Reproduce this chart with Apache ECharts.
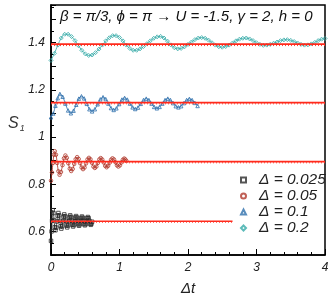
<!DOCTYPE html>
<html><head><meta charset="utf-8">
<script src="https://cdn.jsdelivr.net/npm/echarts@6/dist/echarts.min.js"></script>
<style>html,body{margin:0;padding:0;background:#fff}#c{width:332px;height:307px}</style>
</head><body><div id="c"></div>
<script>
// ---- data ----
const legendNames = ['Δ = 0.025', 'Δ = 0.05', 'Δ = 0.1', 'Δ = 0.2'];

const xBlack = [0,0.008,0.016,0.025,0.035,0.045,0.055,0.065,0.076,0.087,0.097,0.108,0.119,0.13,0.14,0.151,0.162,0.173,0.183,0.194,0.205,0.216,0.226,0.237,0.248,0.259,0.269,0.28,0.291,0.302,0.312,0.323,0.334,0.345,0.355,0.366,0.377,0.388,0.398,0.409,0.42,0.431,0.441,0.452,0.463,0.474,0.484,0.495,0.506,0.517,0.527,0.538,0.549,0.56,0.57,0.581,0.59,0.6];
const yBlack = [0.560,0.600,0.645,0.690,0.678,0.648,0.618,0.605,0.616,0.642,0.667,0.678,0.668,0.645,0.622,0.612,0.621,0.642,0.663,0.672,0.664,0.645,0.625,0.617,0.625,0.643,0.661,0.668,0.661,0.645,0.628,0.621,0.627,0.643,0.659,0.665,0.659,0.645,0.630,0.624,0.630,0.644,0.657,0.663,0.658,0.645,0.631,0.626,0.631,0.644,0.656,0.661,0.656,0.645,0.633,0.628,0.633,0.641];

const xRed = [0,0.014,0.028,0.042,0.055,0.073,0.09,0.108,0.125,0.146,0.168,0.189,0.21,0.231,0.253,0.274,0.295,0.317,0.339,0.36,0.382,0.404,0.425,0.447,0.468,0.49,0.511,0.533,0.554,0.576,0.597,0.619,0.64,0.662,0.683,0.705,0.726,0.748,0.769,0.791,0.812,0.834,0.855,0.877,0.898,0.92,0.941,0.963,0.984,1.006,1.027,1.049,1.07,1.085,1.1];
const yRed = [0.815,0.850,0.890,0.925,0.940,0.925,0.890,0.855,0.840,0.852,0.881,0.910,0.922,0.912,0.889,0.866,0.856,0.865,0.886,0.906,0.915,0.907,0.889,0.871,0.864,0.871,0.888,0.905,0.912,0.906,0.891,0.875,0.869,0.875,0.890,0.905,0.911,0.905,0.892,0.878,0.872,0.878,0.891,0.904,0.910,0.905,0.893,0.880,0.875,0.880,0.892,0.904,0.909,0.905,0.899];

const xBlue = [0,0.033,0.065,0.098,0.13,0.17,0.21,0.25,0.29,0.329,0.368,0.406,0.445,0.484,0.523,0.561,0.6,0.64,0.68,0.72,0.76,0.799,0.838,0.876,0.915,0.955,0.995,1.035,1.075,1.114,1.153,1.191,1.23,1.27,1.31,1.35,1.39,1.429,1.468,1.506,1.545,1.585,1.625,1.665,1.705,1.744,1.783,1.821,1.86,1.9,1.94,1.98,2.02,2.06,2.1,2.14];
const yBlue = [1.084,1.100,1.133,1.165,1.183,1.171,1.142,1.113,1.101,1.112,1.137,1.163,1.173,1.164,1.141,1.118,1.109,1.118,1.139,1.160,1.169,1.161,1.142,1.123,1.115,1.122,1.140,1.159,1.166,1.159,1.142,1.126,1.119,1.125,1.141,1.157,1.163,1.157,1.142,1.128,1.122,1.128,1.142,1.157,1.163,1.157,1.144,1.131,1.126,1.131,1.144,1.157,1.162,1.157,1.145,1.132];

const xTeal = [0,0.05,0.1,0.15,0.2,0.25,0.3,0.35,0.4,0.45,0.5,0.55,0.6,0.65,0.7,0.75,0.8,0.85,0.9,0.95,1,1.05,1.1,1.15,1.2,1.25,1.3,1.35,1.4,1.45,1.5,1.55,1.6,1.65,1.7,1.75,1.8,1.85,1.9,1.95,2,2.05,2.1,2.15,2.2,2.25,2.3,2.35,2.4,2.45,2.5,2.55,2.6,2.65,2.7,2.75,2.8,2.85,2.9,2.95,3,3.05,3.1,3.15,3.2,3.25,3.3,3.35,3.4,3.45,3.5,3.55,3.6,3.65,3.7,3.75,3.8,3.85,3.9,3.95,4];
const yTeal = [1.325,1.355,1.390,1.420,1.436,1.436,1.426,1.409,1.388,1.368,1.353,1.346,1.348,1.358,1.373,1.390,1.408,1.421,1.430,1.430,1.422,1.408,1.390,1.376,1.368,1.368,1.374,1.384,1.396,1.408,1.419,1.425,1.427,1.420,1.407,1.391,1.379,1.374,1.376,1.383,1.393,1.403,1.413,1.420,1.422,1.419,1.411,1.400,1.390,1.383,1.381,1.384,1.390,1.399,1.408,1.415,1.419,1.420,1.416,1.409,1.400,1.393,1.389,1.390,1.393,1.398,1.403,1.409,1.412,1.413,1.410,1.405,1.399,1.393,1.390,1.391,1.395,1.401,1.409,1.415,1.418];

// equilibrium levels: solid and dotted red lines
const levelSolid = [0.643, 0.896, 1.146, 1.394];
const levelDotted = [0.639, 0.891, 1.141, 1.388];
const levelEnd = [2.65, 4, 4, 4];

const xTicks = [0, 1, 2, 3, 4];
const yTickLabels = [0.6, 0.8, 1, 1.2, 1.4];

// ---- chart ----
const zip = (xs, ys) => xs.map((x, i) => [x, ys[i]]);
const FONT = '"Liberation Sans", Arial, sans-serif';
const markerCols = ['#2a2a2a', '#b0382c', '#2f70ad', '#34aaa7'];
const symbols = ['rect', 'circle', 'triangle', 'diamond'];
const sets = [[xBlack, yBlack], [xRed, yRed], [xBlue, yBlue], [xTeal, yTeal]];

const series = [];
sets.forEach((s, i) => {
  series.push({
    type: 'line', name: 'trace' + i, data: zip(s[0], s[1]), smooth: 0.4,
    showSymbol: false, symbol: 'none', silent: true,
    lineStyle: { color: markerCols[i], width: 1, opacity: 0.85 }, z: 2
  });
  series.push({
    type: 'scatter', name: legendNames[i], data: zip(s[0], s[1]),
    symbol: symbols[i], symbolSize: i === 3 ? 4 : 3.5,
    itemStyle: { color: 'rgba(255,255,255,0)', borderColor: markerCols[i], borderWidth: 1 },
    z: 2
  });
});
levelSolid.forEach((v, i) => {
  series.push({
    type: 'line', name: 'solid' + i, data: [[0, v], [levelEnd[i], v]],
    showSymbol: false, symbol: 'none', silent: true,
    lineStyle: { color: '#ff2a1c', width: 1.6 }, z: 3
  });
  series.push({
    type: 'line', name: 'dot' + i, data: [[0, levelDotted[i]], [levelEnd[i], levelDotted[i]]],
    showSymbol: false, symbol: 'none', silent: true,
    lineStyle: { color: '#ff3a2c', width: 1, type: [1, 2] }, z: 3
  });
});

const chart = echarts.init(document.getElementById('c'), null, { renderer: 'canvas' });
chart.setOption({
  animation: false,
  backgroundColor: '#fff',
  grid: { left: 51, right: 7, top: 5, height: 250, show: true, borderColor: '#000', borderWidth: 1.5, backgroundColor: 'transparent' },
  xAxis: {
    type: 'value', min: 0, max: 4, interval: 1,
    name: 'Δt', nameLocation: 'middle', nameGap: 26,
    nameTextStyle: { fontFamily: FONT, fontStyle: 'italic', fontSize: 15, color: '#222' },
    axisLine: { lineStyle: { color: '#000', width: 1.5 } },
    axisTick: { inside: true, length: 6, lineStyle: { color: '#000', width: 1 } },
    minorTick: { show: true, splitNumber: 5, length: 3, lineStyle: { color: '#000', width: 1 } },
    splitLine: { show: false },
    axisLabel: { fontFamily: FONT, fontStyle: 'italic', fontSize: 12, color: '#222', margin: 7,
      formatter: v => xTicks.includes(v) ? String(v) : '' }
  },
  yAxis: {
    type: 'value', min: 0.5, max: 1.56, interval: 0.1,
    axisLine: { lineStyle: { color: '#000', width: 1.5 } },
    axisTick: { inside: true, length: 5, lineStyle: { color: '#000', width: 1 } },
    minorTick: { show: true, splitNumber: 2, length: 3, lineStyle: { color: '#000', width: 1 } },
    splitLine: { show: false },
    axisLabel: { fontFamily: FONT, fontStyle: 'italic', fontSize: 12, color: '#222', margin: 6,
      formatter: v => { const r = Math.round(v * 10) / 10; return yTickLabels.some(t => Math.abs(t - r) < 1e-6) ? String(r) : ''; } }
  },
  legend: {
    data: legendNames, orient: 'vertical', left: 240, top: 172, padding: 0,
    itemWidth: 5, itemHeight: 5, itemGap: 0,
    textStyle: { fontFamily: FONT, fontStyle: 'italic', fontSize: 15.5, color: '#222', lineHeight: 16, padding: [0, 0, 0, 8] }
  },
  graphic: [
    { type: 'text', left: 60, top: 9,
      style: { text: 'β = π/3, ϕ = π → U = -1.5, γ = 2, h = 0', fontFamily: FONT, fontStyle: 'italic', fontSize: 15, fill: '#111' } },
    { type: 'text', left: 8, top: 116,
      style: { text: '{s|S}{n|1}', rich: {
        s: { fontFamily: FONT, fontStyle: 'italic', fontSize: 16, fill: '#333' },
        n: { fontFamily: FONT, fontStyle: 'italic', fontSize: 9, fill: '#333', padding: [8, 0, 0, 1] } } } }
  ],
  series: series
});
</script></body></html>
